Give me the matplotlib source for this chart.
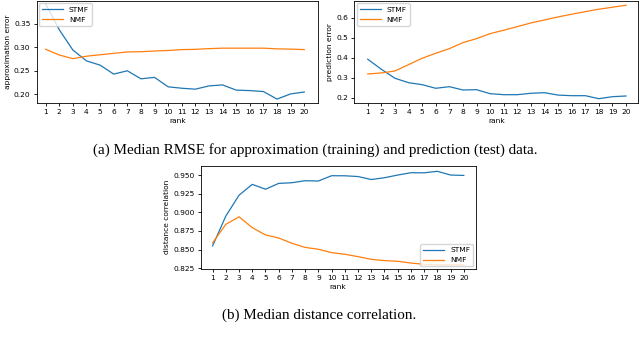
import numpy as np
import matplotlib.pyplot as plt

rank = np.arange(1, 21)

stmf_approx = [0.392, 0.337, 0.294, 0.271, 0.262, 0.243, 0.250, 0.233, 0.236, 0.216,
               0.213, 0.211, 0.218, 0.220, 0.209, 0.208, 0.206, 0.190, 0.201, 0.205]
nmf_approx = [0.2956, 0.2835, 0.2757, 0.281, 0.284, 0.287, 0.290, 0.2905, 0.292, 0.293,
              0.295, 0.2955, 0.297, 0.298, 0.298, 0.298, 0.298, 0.2965, 0.296, 0.295]

stmf_pred = [0.392, 0.342, 0.297, 0.275, 0.265, 0.247, 0.255, 0.2385, 0.240, 0.220,
             0.215, 0.215, 0.222, 0.225, 0.213, 0.210, 0.210, 0.195, 0.205, 0.2085]
nmf_pred = [0.3185, 0.3235, 0.3335, 0.365, 0.397, 0.422, 0.445, 0.475, 0.495, 0.520,
            0.537, 0.555, 0.5735, 0.5885, 0.6035, 0.617, 0.630, 0.642, 0.652, 0.662]

stmf_dcor = [0.855, 0.895, 0.923, 0.9375, 0.931, 0.9388, 0.9397, 0.9424, 0.942, 0.9491,
             0.949, 0.948, 0.944, 0.9464, 0.950, 0.9531, 0.953, 0.955, 0.950, 0.9495]
nmf_dcor = [0.859, 0.884, 0.894, 0.8795, 0.8697, 0.8656, 0.8585, 0.853, 0.8505, 0.846,
            0.8438, 0.8406, 0.837, 0.8353, 0.8344, 0.832, 0.8304, 0.8295, 0.8295, 0.8295]

fs = 5.4
plt.rcParams['font.size'] = fs
plt.rcParams['axes.linewidth'] = 0.6
plt.rcParams['xtick.major.width'] = 0.6
plt.rcParams['ytick.major.width'] = 0.6
plt.rcParams['xtick.major.size'] = 2.5
plt.rcParams['ytick.major.size'] = 2.5
plt.rcParams['xtick.major.pad'] = 2
plt.rcParams['ytick.major.pad'] = 2
plt.rcParams['axes.labelpad'] = 2

fig = plt.figure(figsize=(6.4, 3.38), dpi=100)

ax1 = fig.add_axes([0.0573, 0.695, 0.440, 0.302])
ax2 = fig.add_axes([0.5536, 0.695, 0.4437, 0.302])
ax3 = fig.add_axes([0.3136, 0.2056, 0.4297, 0.303])

lw = 0.9
ax1.plot(rank, stmf_approx, color='#1f77b4', lw=lw, label='STMF')
ax1.plot(rank, nmf_approx, color='#ff7f0e', lw=lw, label='NMF')
ax1.set_xlim(0.34, 21.03)
ax1.set_ylim(0.1815, 0.398)
ax1.set_yticks([0.20, 0.25, 0.30, 0.35])
ax1.set_ylabel('approximation error')

ax2.plot(rank, stmf_pred, color='#1f77b4', lw=lw, label='STMF')
ax2.plot(rank, nmf_pred, color='#ff7f0e', lw=lw, label='NMF')
ax2.set_xlim(0.01, 20.9)
ax2.set_ylim(0.173, 0.683)
ax2.set_yticks([0.2, 0.3, 0.4, 0.5, 0.6])
ax2.set_ylabel('prediction error')

ax3.plot(rank, stmf_dcor, color='#1f77b4', lw=lw, label='STMF')
ax3.plot(rank, nmf_dcor, color='#ff7f0e', lw=lw, label='NMF')
ax3.set_xlim(0.1, 20.9)
ax3.set_ylim(0.8247, 0.962)
ax3.set_yticks([0.825, 0.850, 0.875, 0.900, 0.925, 0.950])
ax3.set_yticklabels(['%.3f' % v for v in [0.825, 0.850, 0.875, 0.900, 0.925, 0.950]])
ax3.set_ylabel('distance correlation')

for ax in (ax1, ax2, ax3):
    ax.set_xticks(rank)
    ax.set_xlabel('rank')
    ax.tick_params(labelsize=fs)

ax1.legend(loc='upper left', fontsize=fs, borderaxespad=0.3, handlelength=2.8)
ax2.legend(loc='upper left', fontsize=fs, borderaxespad=0.3, handlelength=2.8)
ax3.legend(loc='lower right', fontsize=fs, borderaxespad=0.3, handlelength=2.8)

fig.text(0.492, 1 - 150 / 338, '(a) Median RMSE for approximation (training) and prediction (test) data.',
         ha='center', va='center', family='Liberation Serif', fontsize=10.9)
fig.text(0.498, 1 - 315 / 338, '(b) Median distance correlation.',
         ha='center', va='center', family='Liberation Serif', fontsize=10.9)

fig.savefig('out.png', dpi=100)
